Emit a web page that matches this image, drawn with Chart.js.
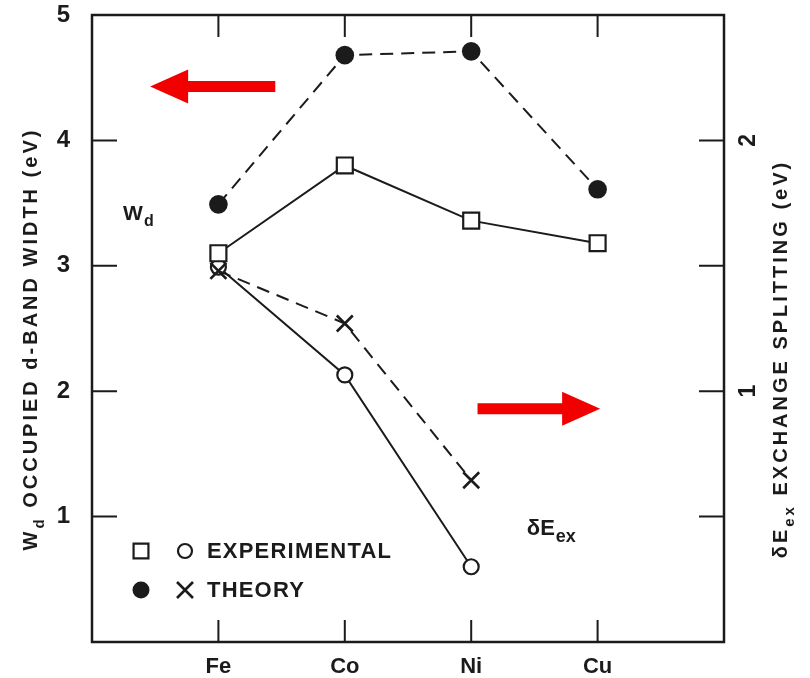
<!DOCTYPE html>
<html>
<head>
<meta charset="utf-8">
<script src="https://cdn.jsdelivr.net/npm/chart.js@4.4.1/dist/chart.umd.min.js"></script>
<style>
  html, body { margin: 0; padding: 0; background: #fff; }
  #wrap { width: 810px; height: 678px; }
</style>
</head>
<body>
<div id="wrap"><canvas id="bandChart" width="810" height="678"></canvas></div>
<script>
// elements along the bottom axis and where they sit on the x scale
const elements = ['Fe', 'Co', 'Ni', 'Cu'];
const elementPos = [1, 2, 3, 4];

// occupied d-band width (eV), left axis
const wdTheory = [3.49, 4.68, 4.71, 3.61];
const wdExperiment = [3.10, 3.80, 3.36, 3.18];

// exchange splitting (eV), right axis (Fe, Co, Ni only)
const splitTheory = [1.48, 1.27, 0.645];
const splitExperiment = [1.495, 1.065, 0.30];

// axis ticks
const wdTicks = [1, 2, 3, 4, 5];
const splitTicks = [1, 2];
const splitMarks = [0.5, 1, 1.5, 2];

const INK = '#1b1b1b';
const RED = '#f20000';
const FONT = '"Liberation Sans", Arial, sans-serif';

function pts(xs, ys) {
    return ys.map((v, i) => ({ x: xs[i], y: v }));
}

// text with subscript pieces, centred on (cx, cy), optionally rotated
function richText(ctx, parts, cx, cy, size, angle, spacing) {
    ctx.save();
    ctx.translate(cx, cy);
    ctx.rotate(angle);
    ctx.textAlign = 'left';
    ctx.textBaseline = 'alphabetic';
    ctx.letterSpacing = spacing + 'px';
    const fontFor = p => 'bold ' + (p.sub ? Math.round(size * 0.75) : size) + 'px ' + FONT;
    let w = 0;
    parts.forEach(p => { ctx.font = fontFor(p); w += ctx.measureText(p.t).width; });
    let cur = -w / 2;
    const base = size * 0.36;
    parts.forEach(p => {
        ctx.font = fontFor(p);
        ctx.fillText(p.t, cur, base + (p.sub ? size * 0.32 : 0));
        cur += ctx.measureText(p.t).width;
    });
    ctx.restore();
}

function arrow(ctx, x0, x1, y) {
    const shaft = 11, headLen = 38, headHalf = 17;
    const dir = Math.sign(x1 - x0);
    const hb = x1 - dir * headLen;
    ctx.beginPath();
    ctx.moveTo(x0, y - shaft / 2);
    ctx.lineTo(hb, y - shaft / 2);
    ctx.lineTo(hb, y - headHalf);
    ctx.lineTo(x1, y);
    ctx.lineTo(hb, y + headHalf);
    ctx.lineTo(hb, y + shaft / 2);
    ctx.lineTo(x0, y + shaft / 2);
    ctx.closePath();
    ctx.fill();
}

const paperFrame = {
    id: 'paperFrame',
    afterDraw(chart) {
        const { ctx, chartArea: a, scales } = chart;
        const x = scales.x, y = scales.y, y2 = scales.y2;
        ctx.save();

        // frame and inward tick marks
        ctx.strokeStyle = INK;
        ctx.lineWidth = 2.5;
        ctx.strokeRect(a.left, a.top, a.right - a.left, a.bottom - a.top);
        ctx.lineWidth = 2;
        ctx.beginPath();
        elementPos.forEach(v => {
            const px = x.getPixelForValue(v);
            ctx.moveTo(px, a.bottom); ctx.lineTo(px, a.bottom - 22);
            ctx.moveTo(px, a.top); ctx.lineTo(px, a.top + 22);
        });
        wdTicks.filter(v => v < y.max).forEach(v => {
            const py = y.getPixelForValue(v);
            ctx.moveTo(a.left, py); ctx.lineTo(a.left + 25, py);
        });
        splitMarks.forEach(v => {
            const py = y2.getPixelForValue(v);
            ctx.moveTo(a.right, py); ctx.lineTo(a.right - 25, py);
        });
        ctx.stroke();

        // right axis labels, turned like the title
        ctx.fillStyle = INK;
        ctx.font = 'bold 23px ' + FONT;
        ctx.textAlign = 'center';
        ctx.textBaseline = 'middle';
        splitTicks.forEach(v => {
            const py = y2.getPixelForValue(v);
            ctx.save();
            ctx.translate(a.right + 25, py);
            ctx.rotate(-Math.PI / 2);
            ctx.fillText(String(v), 0, 0);
            ctx.restore();
        });

        // axis titles
        richText(ctx, [{ t: 'W' }, { t: 'd', sub: true }, { t: ' OCCUPIED d-BAND WIDTH (eV)' }],
            30, 339, 20, -Math.PI / 2, 3);
        richText(ctx, [{ t: '\u03B4E' }, { t: 'ex', sub: true }, { t: ' EXCHANGE SPLITTING (eV)' }],
            780, 359, 20, -Math.PI / 2, 3);

        // curve labels inside the plot
        ctx.textAlign = 'left';
        ctx.textBaseline = 'alphabetic';
        ctx.font = 'bold 21px ' + FONT;
        let lx = x.getPixelForValue(0.245), ly = y.getPixelForValue(3.43) + 8;
        ctx.fillText('W', lx, ly);
        ctx.font = 'bold 16px ' + FONT;
        ctx.fillText('d', lx + 21, ly + 6);
        ctx.font = 'bold 22px ' + FONT;
        lx = x.getPixelForValue(3.44); ly = y.getPixelForValue(0.915) + 8;
        ctx.fillText('\u03B4E', lx, ly);
        const dw = ctx.measureText('\u03B4E').width;
        ctx.font = 'bold 18px ' + FONT;
        ctx.fillText('ex', lx + dw + 1, ly + 7);

        // legend
        const helpers = Chart.helpers;
        const lx0 = a.left + 49, lxc = a.left + 93, ltx = a.left + 115;
        const ly1 = a.top + 536, ly2 = a.top + 575;
        ctx.lineWidth = 2.2;
        ctx.strokeStyle = INK;
        ctx.fillStyle = '#fff';
        helpers.drawPoint(ctx, { pointStyle: 'rect', radius: 10.5, borderWidth: 2.2 }, lx0, ly1);
        helpers.drawPoint(ctx, { pointStyle: 'circle', radius: 7, borderWidth: 2.2 }, lxc, ly1);
        ctx.fillStyle = INK;
        helpers.drawPoint(ctx, { pointStyle: 'circle', radius: 8.5, borderWidth: 0 }, lx0, ly2);
        ctx.lineWidth = 2.6;
        helpers.drawPoint(ctx, { pointStyle: 'crossRot', radius: 11.3, borderWidth: 2.6 }, lxc, ly2);
        ctx.font = 'bold 22px ' + FONT;
        ctx.textBaseline = 'middle';
        ctx.letterSpacing = '1.2px';
        ctx.fillText('EXPERIMENTAL', ltx, ly1 + 1);
        ctx.fillText('THEORY', ltx, ly2 + 1);
        ctx.letterSpacing = '0px';

        // direction arrows: which axis each group belongs to
        ctx.fillStyle = RED;
        arrow(ctx, x.getPixelForValue(1.45), x.getPixelForValue(0.46), y.getPixelForValue(4.43));
        arrow(ctx, x.getPixelForValue(3.05), x.getPixelForValue(4.02), y.getPixelForValue(1.86));

        ctx.restore();
    }
};

new Chart(document.getElementById('bandChart'), {
    type: 'line',
    data: {
        datasets: [
            {
                label: 'Wd theory',
                data: pts(elementPos, wdTheory),
                yAxisID: 'y',
                borderColor: INK,
                borderWidth: 2,
                borderDash: [13, 8],
                pointStyle: 'circle',
                pointRadius: 9.3,
                pointBackgroundColor: INK,
                pointBorderWidth: 0
            },
            {
                label: 'Wd experimental',
                data: pts(elementPos, wdExperiment),
                yAxisID: 'y',
                borderColor: INK,
                borderWidth: 2,
                pointStyle: 'rect',
                pointRadius: 11.3,
                pointBackgroundColor: '#fff',
                pointBorderColor: INK,
                pointBorderWidth: 2.2
            },
            {
                label: 'dEex theory',
                data: pts(elementPos, splitTheory),
                yAxisID: 'y2',
                borderColor: INK,
                borderWidth: 2,
                borderDash: [13, 8],
                pointStyle: 'crossRot',
                pointRadius: 11.3,
                pointBorderColor: INK,
                pointBorderWidth: 2.6
            },
            {
                label: 'dEex experimental',
                data: pts(elementPos, splitExperiment),
                yAxisID: 'y2',
                borderColor: INK,
                borderWidth: 2,
                pointStyle: 'circle',
                pointRadius: 7.5,
                pointBackgroundColor: '#fff',
                pointBorderColor: INK,
                pointBorderWidth: 2.2
            }
        ]
    },
    options: {
        responsive: false,
        animation: false,
        clip: false,
        layout: { padding: { top: 15 } },
        plugins: {
            legend: { display: false },
            tooltip: { enabled: false }
        },
        scales: {
            x: {
                type: 'linear',
                min: 0,
                max: 5,
                position: 'bottom',
                afterBuildTicks: s => { s.ticks = elementPos.map(v => ({ value: v })); },
                afterFit: s => { s.height = 36; s.paddingLeft = 0; s.paddingRight = 0; },
                grid: { display: false, drawTicks: false },
                border: { display: false },
                ticks: {
                    callback: v => elements[elementPos.indexOf(v)] ?? '',
                    color: INK,
                    font: { family: FONT, size: 22, weight: 'bold' },
                    padding: 12,
                    maxRotation: 0,
                    autoSkip: false
                }
            },
            y: {
                min: 0,
                max: 5,
                position: 'left',
                afterBuildTicks: s => { s.ticks = wdTicks.map(v => ({ value: v })); },
                afterFit: s => { s.width = 92; s.paddingTop = 0; s.paddingBottom = 0; },
                grid: { display: false, drawTicks: false },
                border: { display: false },
                ticks: {
                    color: INK,
                    font: { family: FONT, size: 24, weight: 'bold' },
                    padding: 22
                }
            },
            y2: {
                min: 0,
                max: 2.5,
                position: 'right',
                afterFit: s => { s.width = 86; },
                grid: { display: false, drawTicks: false },
                border: { display: false },
                ticks: { display: false }
            }
        }
    },
    plugins: [paperFrame]
});
</script>
</body>
</html>
